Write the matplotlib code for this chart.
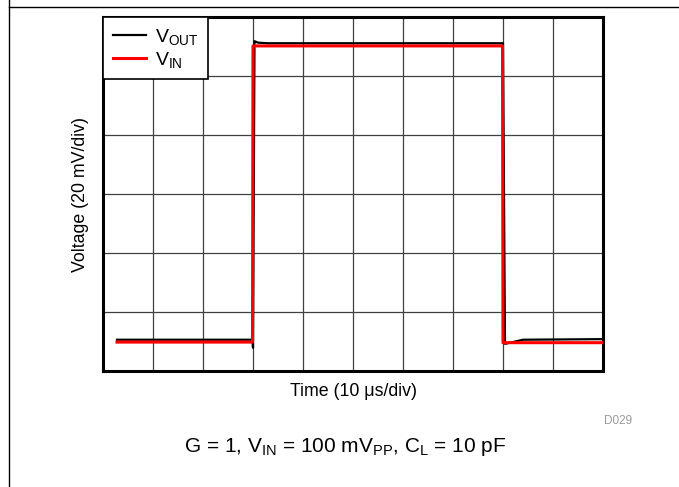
import matplotlib
matplotlib.use("Agg")
import matplotlib.pyplot as plt
from matplotlib.lines import Line2D

plt.rcParams['font.family'] = ['Liberation Sans', 'DejaVu Sans']
plt.rcParams['mathtext.fontset'] = 'custom'
plt.rcParams['mathtext.rm'] = 'Liberation Sans'
plt.rcParams['mathtext.it'] = 'Liberation Sans'

# Data (time in us, voltage in mV)
vin_t = [2.8, 29.9, 30.0, 79.9, 80.0, 100.0]
vin_v = [9.8, 9.8, 110.2, 110.2, 9.6, 9.6]

vout_t = [2.8, 29.9, 30.0, 30.3, 31.0, 33.0, 80.0, 80.4, 84.0, 100.0]
vout_v = [10.6, 10.6, 7.9, 111.8, 111.3, 111.1, 111.1, 9.2, 10.6, 10.8]

labels = [r'V$_{\mathregular{OUT}}$', r'V$_{\mathregular{IN}}$']
xlabel = 'Time (10 \u03bcs/div)'
ylabel = 'Voltage (20 mV/div)'
caption = r'G = 1, V$_{\mathregular{IN}}$ = 100 mV$_{\mathregular{PP}}$, C$_{\mathregular{L}}$ = 10 pF'
tag = 'D029'

fig = plt.figure(figsize=(6.79, 4.87), dpi=100)
ax = fig.add_axes([103/679, 1-371/487, 500/679, 354/487])

ax.plot(vout_t, vout_v, color='black', lw=1.6, label=labels[0], zorder=3)
ax.plot(vin_t, vin_v, color='#ff0000', lw=2.2, label=labels[1], zorder=4)

ax.set_xlim(0, 100)
ax.set_ylim(0, 120)
ax.set_xticks(range(0, 101, 10))
ax.set_yticks(range(0, 121, 20))
ax.grid(True, color='#404040', lw=0.9)
ax.tick_params(length=0, labelleft=False, labelbottom=False)
for s in ax.spines.values():
    s.set_linewidth(2.2)
    s.set_color('black')

ax.set_xlabel(xlabel, fontsize=12.8, labelpad=9)
ax.set_ylabel(ylabel, fontsize=12.8, labelpad=10)

leg = ax.legend(loc='upper left', bbox_to_anchor=(0, 1), borderaxespad=0,
                fancybox=False, framealpha=1, edgecolor='black', fontsize=14,
                handlelength=1.7, handletextpad=0.45, labelspacing=0.15,
                borderpad=0.5)
leg.get_frame().set_linewidth(1.2)
leg.set_zorder(10)

fig.text(632/679, 1-421/487, tag, fontsize=8.5, color='#999999', ha='right', va='center')
fig.text(345/679, 1-447/487, caption, fontsize=15, ha='center', va='center')

fig.add_artist(Line2D([9/679, 1], [1-7/487, 1-7/487], color='black', lw=1.0, transform=fig.transFigure))
fig.add_artist(Line2D([9/679, 9/679], [0, 1], color='black', lw=1.0, transform=fig.transFigure))

fig.savefig('out.png', dpi=100)
